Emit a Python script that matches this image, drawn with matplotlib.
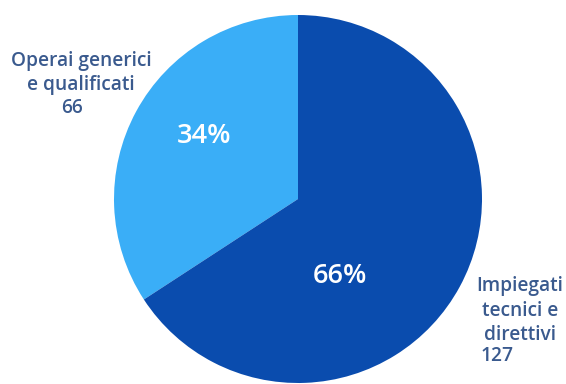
import matplotlib
matplotlib.use("Agg")
import matplotlib.pyplot as plt

# dati
categorie = ["Operai generici\ne qualificati", "Impiegati\ntecnici e\ndirettivi"]
valori = [66, 127]
percentuali = ["34%", "66%"]
colori = ["#3AAEF7", "#0A4CAE"]

plt.rcParams['font.family'] = ['Open Sans', 'DejaVu Sans']

W, H = 566, 384
fig = plt.figure(figsize=(W / 100, H / 100), dpi=100)
fig.patch.set_facecolor("white")

# pie centre (298,199) radius 184 in pixels
cx, cy, r = 298, 199, 184
ax = fig.add_axes([(cx - r) / W, (H - cy - r) / H, 2 * r / W, 2 * r / H])
wedges, _ = ax.pie(valori, colors=colori, startangle=90, counterclock=True,
                   radius=1.0, wedgeprops=dict(linewidth=0))
ax.set_xlim(-1, 1)
ax.set_ylim(-1, 1)
ax.set_aspect("equal")
ax.axis("off")

# percent labels
pos_pct = [(-0.51, 0.34), (0.23, -0.42)]
for (x, y), t in zip(pos_pct, percentuali):
    ax.text(x, y, t, color="white", fontsize=19.5, fontweight="semibold",
            ha="center", va="center")

# category labels (figure pixel coords)
col_txt = "#3A5A8E"
def px(x, y):
    return x / W, 1 - y / H

fs = 13.8
fig.text(*px(81, 73), categorie[0], color=col_txt, fontsize=fs,
         fontweight="semibold", ha="center", va="center", linespacing=1.3)
fig.text(*px(72, 108), str(valori[0]), color=col_txt, fontsize=fs,
         fontweight="semibold", ha="center", va="center")
fig.text(*px(520, 311), categorie[1], color=col_txt, fontsize=fs,
         fontweight="semibold", ha="center", va="center", linespacing=1.3)
fig.text(*px(497, 356), str(valori[1]), color=col_txt, fontsize=fs,
         fontweight="semibold", ha="center", va="center")

fig.savefig("out.png", dpi=100, facecolor="white")
